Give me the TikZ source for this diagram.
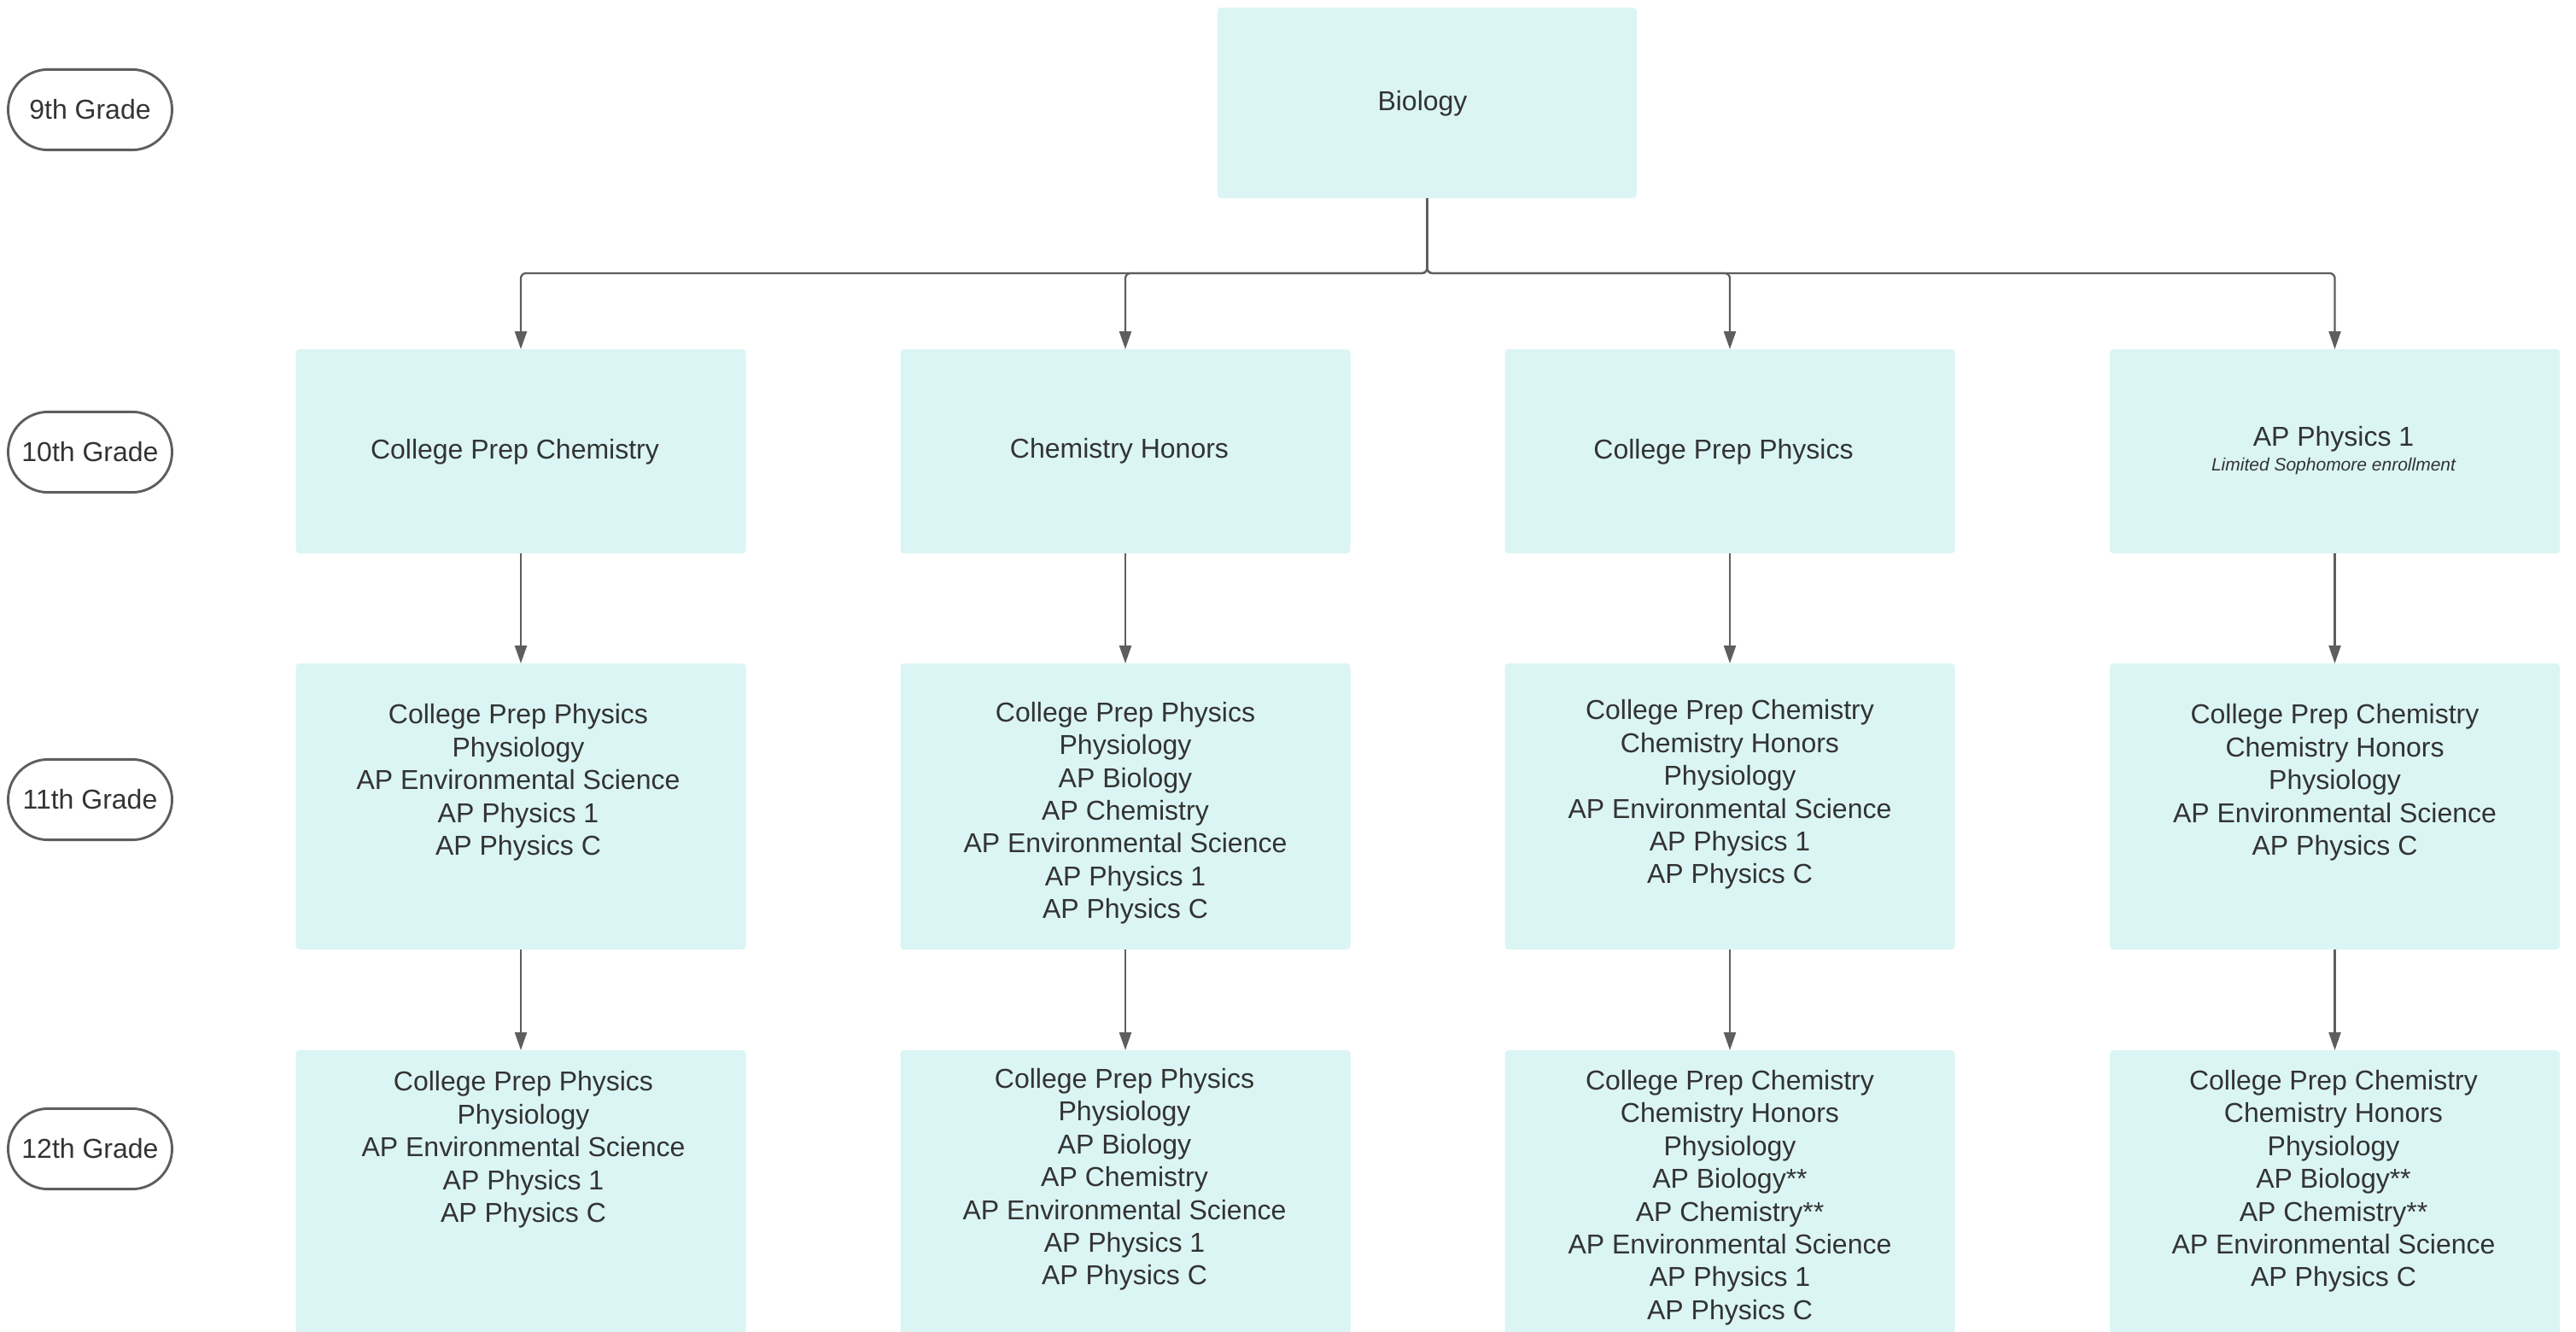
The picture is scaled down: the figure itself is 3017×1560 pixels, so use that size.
\documentclass[tikz,border=0pt]{standalone}
\usepackage{fontspec}
\setmainfont{Liberation Sans}
\usetikzlibrary{arrows.meta}
\definecolor{boxfill}{HTML}{DAF5F4}
\definecolor{linegray}{HTML}{5E5E5E}
\definecolor{txtgray}{HTML}{333333}
\newcommand\mainsz{\fontsize{32}{38.4}\selectfont}
\newcommand\notesz{\fontsize{21}{25}\selectfont\itshape}
\begin{document}
\begin{tikzpicture}[x=1pt,y=-1pt,
  box/.style={fill=boxfill, rounded corners=4pt, inner sep=0pt, outer sep=0pt, minimum width=527pt, anchor=north},
  grade/.style={draw=linegray, line width=2.9pt, fill=white, rounded corners=47pt, minimum width=192pt, minimum height=94.3pt, inner sep=0pt, font=\mainsz, text=txtgray},
  txt/.style={anchor=north, inner sep=0pt, align=center, text=txtgray, font=\mainsz, execute at begin node={\rule{0pt}{24pt}}},
  conn/.style={draw=linegray, line width=2.3pt, rounded corners=6pt, -{Triangle[length=21pt,width=14pt]}}
]
\useasboundingbox (0,0) rectangle (3017,1560);

% grade labels
\node[grade] (g9)  at (105.5,128.5) {9th Grade};
\node[grade] (g10) at (105.5,529.5) {10th Grade};
\node[grade] (g11) at (105.5,936.5) {11th Grade};
\node[grade] (g12) at (105.5,1345.5) {12th Grade};

% boxes
\node[box, minimum width=491pt, minimum height=223pt] (bio) at (1671.5,9) {};
\foreach \c/\x in {1/610,2/1318,3/2026,4/2734.5}{
  \node[box, minimum height=239pt] (r2c\c) at (\x,409) {};
  \node[box, minimum height=335pt] (r3c\c) at (\x,777) {};
  \node[box, minimum height=345pt] (r4c\c) at (\x,1230) {};
}

% texts
\node[txt] (tbio) at (1666,105) {Biology};
\node[txt] (t2c1) at (603,513.5) {College Prep Chemistry};
\node[txt] (t2c2) at (1311,512) {Chemistry Honors};
\node[txt] (t2c3) at (2018.5,513) {College Prep Physics};
\node[txt] (t2c4) at (2733,498) {AP Physics 1};
\node[anchor=base, inner sep=0pt, text=txtgray, font=\notesz] (n2c4) at (2733,551) {Limited Sophomore enrollment};

\node[txt] (t3c1) at (607,824.5) {College Prep Physics\\Physiology\\AP Environmental Science\\AP Physics 1\\AP Physics C};
\node[txt] (t3c2) at (1318,822) {College Prep Physics\\Physiology\\AP Biology\\AP Chemistry\\AP Environmental Science\\AP Physics 1\\AP Physics C};
\node[txt] (t3c3) at (2026,819.5) {College Prep Chemistry\\Chemistry Honors\\Physiology\\AP Environmental Science\\AP Physics 1\\AP Physics C};
\node[txt] (t3c4) at (2734.5,824.5) {College Prep Chemistry\\Chemistry Honors\\Physiology\\AP Environmental Science\\AP Physics C};

\node[txt] (t4c1) at (613,1254.5) {College Prep Physics\\Physiology\\AP Environmental Science\\AP Physics 1\\AP Physics C};
\node[txt] (t4c2) at (1317,1251) {College Prep Physics\\Physiology\\AP Biology\\AP Chemistry\\AP Environmental Science\\AP Physics 1\\AP Physics C};
\node[txt] (t4c3) at (2026,1253) {College Prep Chemistry\\Chemistry Honors\\Physiology\\AP Biology**\\AP Chemistry**\\AP Environmental Science\\AP Physics 1\\AP Physics C};
\node[txt] (t4c4) at (2733,1253) {College Prep Chemistry\\Chemistry Honors\\Physiology\\AP Biology**\\AP Chemistry**\\AP Environmental Science\\AP Physics C};

% connectors
\coordinate (bus) at (1671.5,320);
\foreach \c in {1,2,3,4}{
  \draw[conn] (bio.south) -- (bus) -| (r2c\c.north);
  \draw[conn] (r2c\c.south) -- (r3c\c.north);
  \draw[conn] (r3c\c.south) -- (r4c\c.north);
}
\end{tikzpicture}
\end{document}
